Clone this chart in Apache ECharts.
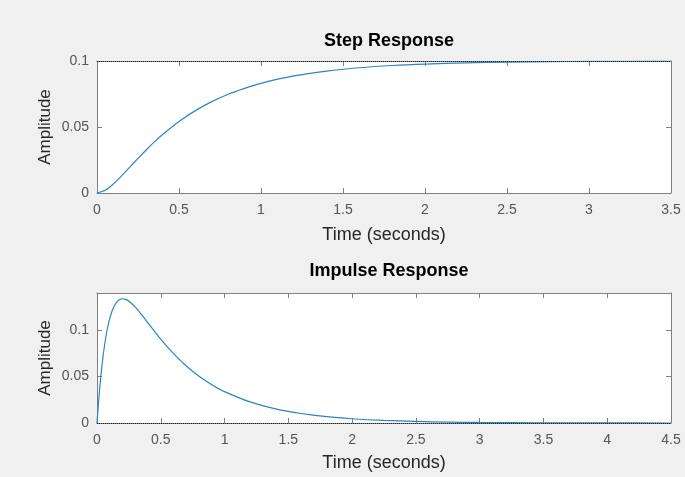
<!DOCTYPE html>
<html>
<head>
<meta charset="utf-8">
<script src="https://cdn.jsdelivr.net/npm/echarts@6/dist/echarts.min.js"></script>
<style>
  html, body { margin: 0; padding: 0; background: #f0f0f0; }
  #chart { width: 685px; height: 477px; }
</style>
</head>
<body>
<div id="chart"></div>
<script>
// Step response samples (time in seconds, amplitude)
const stepTime = [0, 0.05, 0.1, 0.15, 0.2, 0.25, 0.3, 0.35, 0.4, 0.5, 0.6, 0.7, 0.8, 0.9, 1.0,
  1.2, 1.4, 1.6, 1.8, 2.0, 2.25, 2.5, 2.75, 3.0, 3.25, 3.5];
const stepAmp = [0, 0.0021, 0.0069, 0.0130, 0.0196, 0.0262, 0.0326, 0.0387, 0.0443, 0.0542, 0.0624,
  0.0692, 0.0748, 0.0793, 0.0831, 0.0887, 0.0924, 0.0949, 0.0966, 0.0977, 0.0986, 0.0992, 0.0995,
  0.0997, 0.0998, 0.0999];

// Impulse response samples
const impulseTime = [0, 0.01, 0.02, 0.04, 0.06, 0.08, 0.1, 0.125, 0.15, 0.175, 0.2, 0.225, 0.25,
  0.3, 0.35, 0.4, 0.5, 0.6, 0.7, 0.8, 0.9, 1.0, 1.2, 1.4, 1.6, 1.8, 2.0, 2.25, 2.5, 2.75, 3.0,
  3.5, 4.0, 4.5];
const impulseAmp = [0, 0.0188, 0.0355, 0.0632, 0.0845, 0.1007, 0.1127, 0.1231, 0.1294, 0.1327,
  0.1338, 0.1331, 0.1311, 0.1248, 0.1166, 0.1078, 0.0903, 0.0747, 0.0614, 0.0504, 0.0413, 0.0338,
  0.0227, 0.0152, 0.0102, 0.0068, 0.0046, 0.0028, 0.0017, 0.0010, 0.0006, 0.0002, 0.0001, 0.0000];

// Axis settings
const stepXTicks = { min: 0, max: 3.5, interval: 0.5 };
const stepYTicks = { min: 0, max: 0.1, interval: 0.05 };
const impulseXTicks = { min: 0, max: 4.5, interval: 0.5 };
const impulseYTicks = { min: 0, max: 0.14, interval: 0.05 };
const stepFinal = 0.1;
const impulseFinal = 0;

const FONT = "'Liberation Sans', Arial, Helvetica, sans-serif";
const FRAME = '#808080';
const LINE = '#2a84c6';

const pairs = (xs, ys) => xs.map((x, i) => [x, ys[i]]);

const tick = () => ({ show: true, inside: true, length: 5, lineStyle: { color: FRAME, width: 1 } });
const frameLine = () => ({ show: true, onZero: false, lineStyle: { color: FRAME, width: 1 } });
const labelStyle = () => ({ color: '#555', fontSize: 14, fontFamily: FONT });

function mainX(gridIndex, t, gap) {
  return {
    type: 'value', gridIndex, position: 'bottom', min: t.min, max: t.max, interval: t.interval,
    name: 'Time (seconds)', nameLocation: 'middle', nameGap: gap,
    nameTextStyle: { color: '#262626', fontSize: 18, fontFamily: FONT },
    axisLine: frameLine(), axisTick: tick(),
    axisLabel: Object.assign({ margin: 10 }, labelStyle()),
    splitLine: { show: false }
  };
}
function sideX(gridIndex, t) {
  return {
    type: 'value', gridIndex, position: 'top', min: t.min, max: t.max, interval: t.interval,
    axisLine: frameLine(), axisTick: tick(), axisLabel: { show: false }, splitLine: { show: false }
  };
}
function mainY(gridIndex, t) {
  return {
    type: 'value', gridIndex, position: 'left', min: t.min, max: t.max, interval: t.interval,
    name: 'Amplitude', nameLocation: 'middle', nameGap: 43, nameMoveOverlap: false,
    nameTextStyle: { color: '#262626', fontSize: 17, fontFamily: FONT },
    axisLine: frameLine(), axisTick: tick(),
    axisLabel: Object.assign({ margin: 8, showMaxLabel: t.max === 0.1 }, labelStyle()),
    splitLine: { show: false }
  };
}
function sideY(gridIndex, t) {
  return {
    type: 'value', gridIndex, position: 'right', min: t.min, max: t.max, interval: t.interval,
    axisLine: frameLine(), axisTick: tick(), axisLabel: { show: false }, splitLine: { show: false }
  };
}
function steadyLine(value) {
  return {
    silent: true, symbol: ['none', 'none'], label: { show: false },
    lineStyle: { type: 'dotted', color: '#222', width: 1 },
    data: [{ yAxis: value }]
  };
}

const chart = echarts.init(document.getElementById('chart'), null, { renderer: 'canvas' });
chart.setOption({
  backgroundColor: '#f0f0f0',
  animation: false,
  title: [
    { text: 'Step Response', left: 384, top: 27, textAlign: 'center',
      textStyle: { fontSize: 18, fontWeight: 'bold', color: '#000', fontFamily: FONT } },
    { text: 'Impulse Response', left: 384, top: 257, textAlign: 'center',
      textStyle: { fontSize: 18, fontWeight: 'bold', color: '#000', fontFamily: FONT } }
  ],
  grid: [
    { left: 97, top: 61, width: 574, height: 132, show: true, backgroundColor: '#fff', borderWidth: 0 },
    { left: 97, top: 293, width: 574, height: 130, show: true, backgroundColor: '#fff', borderWidth: 0 }
  ],
  xAxis: [mainX(0, stepXTicks, 33), sideX(0, stepXTicks), mainX(1, impulseXTicks, 31), sideX(1, impulseXTicks)],
  yAxis: [mainY(0, stepYTicks), sideY(0, stepYTicks), mainY(1, impulseYTicks), sideY(1, impulseYTicks)],
  series: [
    {
      name: 'Step', type: 'line', xAxisIndex: 0, yAxisIndex: 0,
      data: pairs(stepTime, stepAmp), showSymbol: false, smooth: 0.3,
      lineStyle: { color: LINE, width: 1.2 }, markLine: steadyLine(stepFinal)
    },
    {
      name: 'Impulse', type: 'line', xAxisIndex: 2, yAxisIndex: 2,
      data: pairs(impulseTime, impulseAmp), showSymbol: false, smooth: 0.3,
      lineStyle: { color: LINE, width: 1.2 }, markLine: steadyLine(impulseFinal)
    }
  ]
});
</script>
</body>
</html>
